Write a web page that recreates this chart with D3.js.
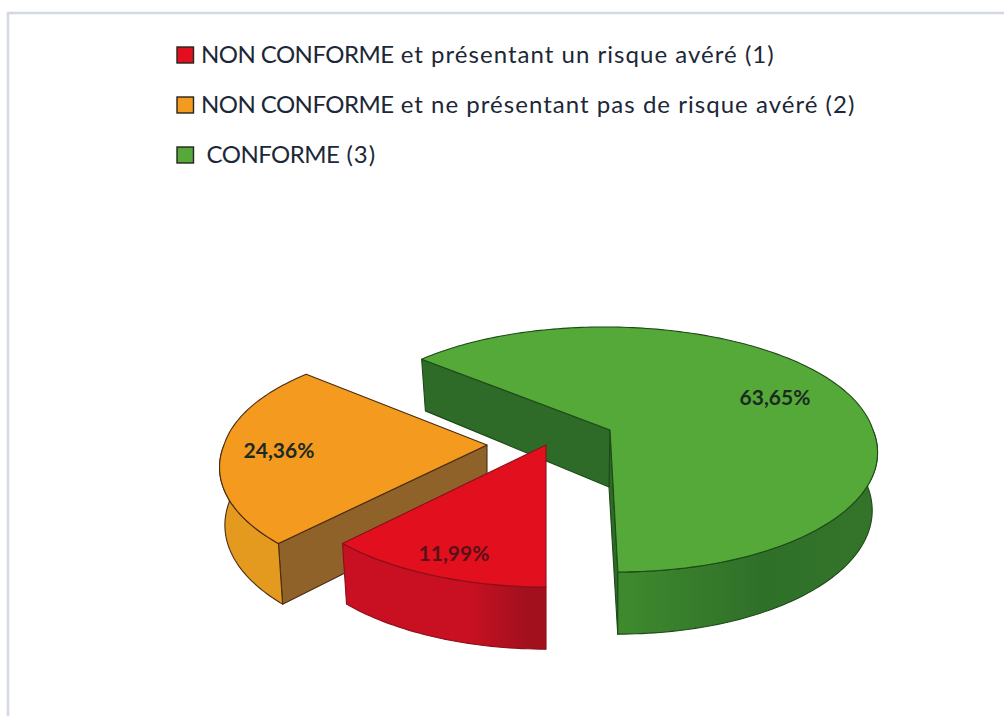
<!DOCTYPE html>
<html>
<head>
<meta charset="utf-8">
<script src="https://cdn.jsdelivr.net/npm/d3@7"></script>
<style>
    html, body { margin: 0; padding: 0; background: #fff; }
    svg { display: block; }
    text { font-family: Lato, "Noto Sans", sans-serif; }
</style>
</head>
<body>
<div id="chart"></div>
<script>
// légende coupée en deux : les capitales sont plus serrées que le reste
const categories = ['NON CONFORME', 'NON CONFORME', ' CONFORME'];
const categorySuffix = [' et présentant un risque avéré (1)', ' et ne présentant pas de risque avéré (2)', ' (3)'];
const values = [11.99, 24.36, 63.65];
const valueLabels = ['11,99%', '24,36%', '63,65%'];

const width = 1004, height = 716;

// couleurs : dessus, paroi courbe, paroi plate
const topColors = ['#e2101f', '#f39a1f', '#55a938'];
const rimColors = ['url(#redRim)', '#e49a1e', 'url(#greenRim)'];
const wallColors = ['#a9111f', '#8f6229', '#2f6b28'];
const strokeColors = ['#8a0f18', '#4a2c12', '#1d4a18'];

// sommet de chaque part à l'écran (parts éclatées)
const apexes = [[546, 445], [487, 445], [610, 430]];
const labelPos = [[454, 554], [279, 451], [775, 398]];

// projection de la tarte inclinée
const rx = 263, ry = 119.4, persp = 0.159, perspFarX = 0.12, depth = 57;

function project(apex, a, r) {
    const c = r * Math.cos(a);
    const s = 1 / (1 + persp * c);
    const sx = c > 0 ? 1 / (1 + perspFarX * c) : s;
    const y = -ry * c * s;
    const x = rx * r * Math.sin(a) * sx + y * (apex[0] - 546) / 1150;
    return [apex[0] + x, apex[1] + y];
}

function projectLow(apex, a, r) {
    const p = project(apex, a, r);
    const c = r * Math.cos(a);
    const s = 1 / (1 + persp * c);
    const d = depth * (c > 0 ? s : Math.sqrt(s));
    return [apex[0] + (p[0] - apex[0]) * 0.98, p[1] + d];
}

const svg = d3.select('#chart').append('svg')
    .attr('width', width)
    .attr('height', height);

// cadre de la page scannée
svg.append('rect').attr('x', 8).attr('y', 13).attr('width', 1010).attr('height', 720)
    .attr('fill', '#fff').attr('stroke', '#d3d8e1').attr('stroke-width', 2.5);

const line = d3.line();
const pie = d3.pie().sort(null).startAngle(Math.PI).endAngle(3 * Math.PI);
const arcs = pie(values);

const defs = svg.append('defs');
const redGrad = defs.append('linearGradient').attr('id', 'redRim');
redGrad.append('stop').attr('offset', '0.62').attr('stop-color', '#c81022');
redGrad.append('stop').attr('offset', '0.9').attr('stop-color', '#a2101e');
const greenGrad = defs.append('linearGradient').attr('id', 'greenRim');
greenGrad.append('stop').attr('offset', '0').attr('stop-color', '#3f8a2e');
greenGrad.append('stop').attr('offset', '0.55').attr('stop-color', '#2f7029');
greenGrad.append('stop').attr('offset', '1').attr('stop-color', '#34742a');

function sample(a0, a1) {
    const n = Math.max(2, Math.ceil(Math.abs(a1 - a0) / 0.02));
    return d3.range(n + 1).map(i => a0 + (a1 - a0) * i / n);
}

// dessin du vert vers le rouge pour que les parts se recouvrent bien
[2, 1, 0].forEach(i => {
    const d = arcs[i];
    const apex = apexes[i];
    const g = svg.append('g').attr('stroke', strokeColors[i]).attr('stroke-width', 1.1).attr('stroke-linejoin', 'round');
    const lowApex = [apex[0] - (i === 2 ? 1 : 0), apex[1] + depth];

    // parois plates
    const addWall = (a, fill) => {
        g.append('path')
            .attr('d', line([apex, project(apex, a, 1), projectLow(apex, a, 1), lowApex]) + 'Z')
            .attr('fill', fill);
    };
    if (i === 2) {
        addWall(d.endAngle, wallColors[i]);
        addWall(d.startAngle, wallColors[i]);
    }
    if (i === 1) addWall(d.startAngle, wallColors[i]);

    // paroi courbe : seulement la partie vers l'avant
    const rimStart = i === 2 ? Math.PI * 2.5 : d.startAngle;
    const rimEnd = i === 2 ? Math.PI * 3 : Math.min(d.endAngle, Math.PI * 1.5);
    const angles = sample(rimStart, rimEnd);
    const rim = angles.map(a => project(apex, a, 1))
        .concat(angles.slice().reverse().map(a => projectLow(apex, a, 1)));
    g.append('path')
        .attr('d', line(rim) + 'Z')
        .attr('fill', rimColors[i]);

    // dessus de la part
    const top = [apex].concat(sample(d.startAngle, d.endAngle).map(a => project(apex, a, 1)));
    g.append('path')
        .attr('d', line(top) + 'Z')
        .attr('fill', topColors[i]);

    svg.append('text')
        .attr('x', labelPos[i][0])
        .attr('y', labelPos[i][1])
        .attr('dy', '.35em')
        .attr('text-anchor', 'middle')
        .attr('font-size', 21)
        .attr('font-weight', 700)
        .attr('fill', i === 0 ? '#5a1016' : '#1c2a22')
        .text(valueLabels[i]);
});

// légende
const legendY = d3.scalePoint().domain(d3.range(categories.length)).range([55, 155]);
const legend = svg.append('g').selectAll('g')
    .data(categories)
    .enter().append('g')
    .attr('transform', (d, i) => `translate(177,${legendY(i)})`);

legend.append('rect')
    .attr('y', -8)
    .attr('width', 16.5)
    .attr('height', 16)
    .attr('fill', (d, i) => topColors[i])
    .attr('stroke', '#26241f')
    .attr('stroke-width', 1.4);

const legendText = legend.append('text')
    .attr('x', 24)
    .attr('dy', '.35em')
    .attr('font-size', 24)
    .attr('fill', '#1c2738')
    .style('white-space', 'pre');

legendText.append('tspan')
    .attr('letter-spacing', -0.55)
    .text(d => d);

legendText.append('tspan')
    .attr('letter-spacing', 1.03)
    .text((d, i) => categorySuffix[i]);
</script>
</body>
</html>
